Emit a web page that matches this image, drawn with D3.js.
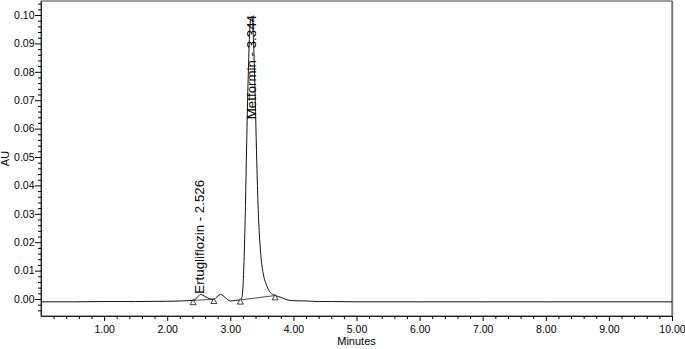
<!DOCTYPE html>
<html>
<head>
<meta charset="utf-8">
<script src="https://cdn.jsdelivr.net/npm/d3@7"></script>
<style>
  html, body { margin: 0; padding: 0; background: #fff; }
  svg { display: block; }
  text { font-family: "Liberation Sans", Arial, Helvetica, sans-serif; fill: #000; }
</style>
</head>
<body>
<svg id="chart" width="685" height="349"></svg>
<script>
// ---- data ----
const times = [0.00, 0.50, 1.00, 1.50, 2.00, 2.20, 2.30, 2.41, 2.47, 2.53, 2.60, 2.67, 2.74, 2.79, 2.85, 2.92, 3.00, 3.08, 3.16, 3.18,
  3.20, 3.22, 3.24, 3.26, 3.28, 3.30, 3.32, 3.344, 3.36, 3.38, 3.40, 3.42, 3.44, 3.46, 3.48, 3.50, 3.53, 3.56, 3.60, 3.65, 3.71, 3.76,
  3.82, 3.90, 4.00, 4.20, 4.40, 4.60, 5.00, 6.00, 7.00, 8.00, 9.00, 10.00];
const absorbance = [-0.0010, -0.0010, -0.0009, -0.0009, -0.0008, -0.0007, -0.0006, -0.0005, 0.0004, 0.0016, 0.0009, 0.0001, -0.0001, 0.0008, 0.0016, 0.0005, -0.0007, -0.0005, -0.0003, 0.0002,
  0.0040, 0.0150, 0.0330, 0.0550, 0.0750, 0.0900, 0.0980, 0.0995, 0.0950, 0.0830, 0.0660, 0.0480, 0.0330, 0.0230, 0.0165, 0.0120, 0.0080, 0.0057, 0.0035, 0.0020, 0.0012, 0.0009,
  0.0004, -0.0003, -0.0006, -0.0007, -0.0009, -0.0009, -0.0010, -0.0010, -0.0010, -0.0010, -0.0010, -0.0010];

const peakNames = ["Ertugliflozin - 2.526", "Metformin - 3.344"];
const peakTimes = [2.526, 3.344];
const peakStarts = [2.41, 3.16];
const peakEnds = [2.74, 3.71];

const xMajorTicks = [1, 2, 3, 4, 5, 6, 7, 8, 9, 10];
const yMajorTicks = [0.00, 0.01, 0.02, 0.03, 0.04, 0.05, 0.06, 0.07, 0.08, 0.09, 0.10];
const xTitle = "Minutes";
const yTitle = "AU";

// ---- layout ----
const svg = d3.select("#chart");
const L = 41, R = 672, T = 1, B = 316;

const x = d3.scaleLinear().domain([0, 10]).range([L, R]);
// y(0)=299, y(0.10)=15
const y = d3.scaleLinear().domain([-17 / 2840, 0.10 + 14 / 2840]).range([B, T]);

const pts = times.map((t, i) => [t, absorbance[i]]);
const interp = t => {
  const i = d3.bisector(d => d[0]).left(pts, t);
  if (i <= 0) return pts[0][1];
  if (i >= pts.length) return pts[pts.length - 1][1];
  const a = pts[i - 1], b = pts[i];
  return a[1] + (b[1] - a[1]) * (t - a[0]) / (b[0] - a[0]);
};

// frame
svg.append("rect").attr("x", L).attr("y", T).attr("width", R - L).attr("height", B - T)
  .attr("fill", "none").attr("stroke", "#444").attr("stroke-width", 1);
svg.append("line").attr("x1", R + 0.5).attr("x2", R + 0.5).attr("y1", T).attr("y2", B)
  .attr("stroke", "#777").attr("stroke-width", 1.5);

// x axis
const xAxis = d3.axisBottom(x).tickValues(xMajorTicks).tickFormat(d3.format(".2f")).tickSize(5).tickSizeOuter(0);
const gx = svg.append("g").attr("transform", `translate(0,${B})`).call(xAxis);
gx.select(".domain").attr("stroke", "#222");
gx.selectAll("text").attr("font-size", 10.5).attr("font-family", "Liberation Sans, Arial, sans-serif").attr("dy", "0.9em");
const xMinor = d3.range(0.2, 10, 0.2).filter(v => Math.abs(v - Math.round(v)) > 1e-6);
svg.append("g").attr("transform", `translate(0,${B})`)
  .call(d3.axisBottom(x).tickValues(xMinor).tickSize(3).tickFormat("").tickSizeOuter(0))
  .select(".domain").remove();

// y axis
const yAxis = d3.axisLeft(y).tickValues(yMajorTicks).tickFormat(d3.format(".2f")).tickSize(6).tickSizeOuter(0);
const gy = svg.append("g").attr("transform", `translate(${L},0)`).call(yAxis);
gy.select(".domain").attr("stroke", "#222");
gy.selectAll("text").attr("font-size", 10.5).attr("font-family", "Liberation Sans, Arial, sans-serif").attr("x", -6.5);
const yMinor = d3.range(-0.004, 0.1045, 0.002).filter(v => Math.abs(v * 100 - Math.round(v * 100)) > 1e-6);
svg.append("g").attr("transform", `translate(${L},0)`)
  .call(d3.axisLeft(y).tickValues(yMinor).tickSize(3).tickFormat("").tickSizeOuter(0))
  .select(".domain").remove();

// integration baselines
peakStarts.forEach((s, i) => {
  const e = peakEnds[i];
  svg.append("line")
    .attr("x1", x(s)).attr("y1", y(interp(s)))
    .attr("x2", x(e)).attr("y2", y(interp(e)))
    .attr("stroke", "#222").attr("stroke-width", 0.8);
});

// chromatogram trace
const line = d3.line().x(d => x(d[0])).y(d => y(d[1])).curve(d3.curveMonotoneX);
svg.append("path").datum(pts).attr("d", line)
  .attr("fill", "none").attr("stroke", "#111").attr("stroke-width", 1);

// markers (open triangles)
const marks = peakStarts.concat(peakEnds);
const tri = d3.symbol().type(d3.symbolTriangle).size(16);
svg.selectAll(".mk").data(marks).join("path")
  .attr("class", "mk")
  .attr("d", tri)
  .attr("transform", d => `translate(${x(d)},${y(interp(d)) + 2.5})`)
  .attr("fill", "#fff").attr("stroke", "#111").attr("stroke-width", 0.8);

// peak labels
peakNames.forEach((name, i) => {
  const px = x(peakTimes[i]);
  const py = y(interp(peakTimes[i]));
  const t = svg.append("text").text(name).attr("font-size", 13.3)
    .attr("text-anchor", "start");
  const len = t.node().getComputedTextLength();
  let start = py - 1;
  if (start - len < T + 14) start = T + 14 + len;
  t.attr("transform", `translate(${px + 4},${start}) rotate(-90)`);
});

// axis titles
svg.append("text").text(xTitle).attr("x", (L + R) / 2).attr("y", 345)
  .attr("text-anchor", "middle").attr("font-size", 11);
svg.append("text").text(yTitle).attr("transform", `translate(9,${(T + B) / 2}) rotate(-90)`)
  .attr("text-anchor", "middle").attr("font-size", 11);
</script>
</body>
</html>
